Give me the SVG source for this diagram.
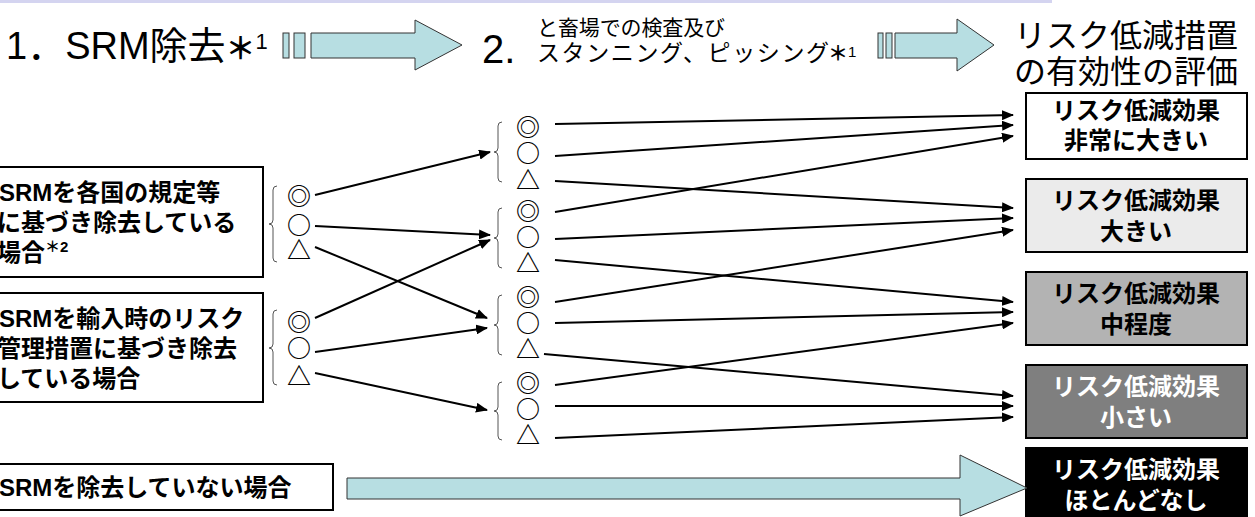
<svg xmlns="http://www.w3.org/2000/svg" width="1255" height="517" viewBox="0 0 1255 517">
<style>
.t{font-family:"Liberation Sans","Noto Sans CJK JP",sans-serif;fill:#000}
.b{font-weight:bold}
.box{stroke:#000;stroke-width:2}
.blk{fill:#b7dee2;stroke:#333;stroke-width:1}
.br{fill:none;stroke:#555;stroke-width:1}
.sym{font-family:"Noto Sans CJK JP",sans-serif;font-size:24px;font-weight:bold;text-anchor:middle}
.c line{stroke:#000;stroke-width:2;marker-end:url(#ah)}
.rt{font-size:24px;font-weight:bold;text-anchor:middle}
.lt{font-size:24px;font-weight:bold}
.ast{font-weight:bold}
</style>
<defs>
<marker id="ah" markerUnits="userSpaceOnUse" markerWidth="12" markerHeight="10" refX="11" refY="5" orient="auto">
<path d="M0,0 L12,5 L0,10 z" fill="#000"/>
</marker>
</defs>
<rect x="0" y="0" width="1052" height="3" fill="#d4d4f0"/>

<g id="header1">
<text class="t" x="6" y="59" font-size="38">1．SRM除去<tspan class="ast" font-size="30">＊</tspan><tspan font-size="22" dy="-10">1</tspan></text>
<rect class="blk" x="283" y="33" width="6" height="25"/>
<rect class="blk" x="294" y="33" width="11" height="25"/>
<polygon class="blk" points="311,33 415,33 415,20 462,45 415,70 415,58 311,58"/>
</g>
<g id="header2">
<text class="t" x="482" y="63" font-size="40">2.</text>
<text class="t" x="537" y="35" font-size="21" textLength="188" lengthAdjust="spacing">と畜場での検査及び</text>
<text class="t" x="537" y="61" font-size="23" textLength="292" lengthAdjust="spacing">スタンニング、ピッシング</text>
<text class="t" x="828" y="61" font-size="20"><tspan class="ast">＊</tspan><tspan font-size="15" dy="-4">1</tspan></text>
<rect class="blk" x="878" y="33" width="5" height="25"/>
<rect class="blk" x="886" y="33" width="6" height="25"/>
<polygon class="blk" points="895,33 957,33 957,19 994,45 957,71 957,58 895,58"/>
</g>
<g id="header3">
<text class="t" x="1014" y="47" font-size="32">リスク低減措置</text>
<text class="t" x="1014" y="83" font-size="32">の有効性の評価</text>
</g>

<g id="boxA">
<rect class="box" x="-2" y="167" width="265" height="110" fill="#fff"/>
<text class="t lt" x="-1" y="201">SRMを各国の規定等</text>
<text class="t lt" x="-3" y="231">に基づき除去している</text>
<text class="t lt" x="-3" y="261">場合<tspan font-size="15" dy="-9">＊2</tspan></text>
</g>
<g id="boxB">
<rect class="box" x="-2" y="293" width="265" height="109" fill="#fff"/>
<text class="t lt" x="-1" y="327">SRMを輸入時のリスク</text>
<text class="t lt" x="-3" y="357">管理措置に基づき除去</text>
<text class="t lt" x="-3" y="387">している場合</text>
</g>
<g id="boxC">
<rect class="box" x="-2" y="464" width="335" height="46" fill="#fff"/>
<text class="t lt" x="-1" y="496">SRMを除去していない場合</text>
</g>

<g id="leftGroup1">
<path class="br" d="M277,186 q-4,0 -4,4 L273,220 q0,4 -4,4 q4,0 4,4 L273,258 q0,4 4,4"/>
<text class="sym" x="299" y="205">◎</text>
<text class="sym" x="299" y="234">○</text>
<text class="sym" x="299" y="259">△</text>
</g>
<g id="leftGroup2">
<path class="br" d="M277,310 q-4,0 -4,4 L273,344 q0,4 -4,4 q4,0 4,4 L273,381 q0,4 4,4"/>
<text class="sym" x="299" y="331">◎</text>
<text class="sym" x="299" y="357">○</text>
<text class="sym" x="299" y="385">△</text>
</g>

<g id="midGroup1">
<path class="br" d="M502,122 q-4,0 -4,4 L498,148 q0,4 -4,4 q4,0 4,4 L498,178 q0,4 4,4"/>
<text class="sym" x="528" y="136">◎</text>
<text class="sym" x="528" y="162">○</text>
<text class="sym" x="528" y="189">△</text>
</g>
<g id="midGroup2">
<path class="br" d="M502,208 q-4,0 -4,4 L498,234 q0,4 -4,4 q4,0 4,4 L498,264 q0,4 4,4"/>
<text class="sym" x="528" y="220">◎</text>
<text class="sym" x="528" y="246">○</text>
<text class="sym" x="528" y="272">△</text>
</g>
<g id="midGroup3">
<path class="br" d="M502,295 q-4,0 -4,4 L498,321 q0,4 -4,4 q4,0 4,4 L498,351 q0,4 4,4"/>
<text class="sym" x="528" y="306">◎</text>
<text class="sym" x="528" y="332">○</text>
<text class="sym" x="528" y="358">△</text>
</g>
<g id="midGroup4">
<path class="br" d="M502,382 q-4,0 -4,4 L498,407 q0,4 -4,4 q4,0 4,4 L498,436 q0,4 4,4"/>
<text class="sym" x="528" y="392">◎</text>
<text class="sym" x="528" y="418">○</text>
<text class="sym" x="528" y="444">△</text>
</g>

<g id="result1">
<rect class="box" x="1026" y="93" width="221" height="66" fill="#fff" stroke-width="1.5"/>
<text class="t rt" x="1136" y="119">リスク低減効果</text>
<text class="t rt" x="1136" y="149">非常に大きい</text>
</g>
<g id="result2">
<rect class="box" x="1026" y="179" width="221" height="73" fill="#ebebeb" stroke-width="1.5"/>
<text class="t rt" x="1136" y="209">リスク低減効果</text>
<text class="t rt" x="1136" y="240">大きい</text>
</g>
<g id="result3">
<rect class="box" x="1026" y="272" width="221" height="73" fill="#b3b3b3" stroke-width="1.5"/>
<text class="t rt" x="1136" y="302">リスク低減効果</text>
<text class="t rt" x="1136" y="333">中程度</text>
</g>
<g id="result4">
<rect class="box" x="1026" y="365" width="221" height="73" fill="#7f7f7f" stroke-width="1.5"/>
<text class="t rt" x="1136" y="395" style="fill:#fff">リスク低減効果</text>
<text class="t rt" x="1136" y="426" style="fill:#fff">小さい</text>
</g>
<g id="result5">
<rect class="box" x="1026" y="448" width="221" height="72" fill="#000" stroke-width="1.5"/>
<text class="t rt" x="1136" y="478" style="fill:#fff">リスク低減効果</text>
<text class="t rt" x="1136" y="509" style="fill:#fff">ほとんどなし</text>
</g>

<g id="connectors" class="c">
<line x1="315" y1="195" x2="490" y2="152"/>
<line x1="315" y1="226" x2="490" y2="235"/>
<line x1="315" y1="247" x2="487" y2="318"/>
<line x1="315" y1="318" x2="490" y2="240"/>
<line x1="315" y1="352" x2="487" y2="328"/>
<line x1="315" y1="373" x2="487" y2="410"/>

<line x1="555" y1="124" x2="1013" y2="115"/>
<line x1="555" y1="156" x2="1013" y2="125"/>
<line x1="555" y1="181" x2="1013" y2="208"/>
<line x1="555" y1="212" x2="1013" y2="136"/>
<line x1="555" y1="239" x2="1013" y2="218"/>
<line x1="555" y1="260" x2="1013" y2="302"/>
<line x1="555" y1="302" x2="1013" y2="230"/>
<line x1="555" y1="323" x2="1013" y2="312"/>
<line x1="544" y1="354" x2="1013" y2="396"/>
<line x1="555" y1="385" x2="1013" y2="323"/>
<line x1="555" y1="406" x2="1013" y2="406"/>
<line x1="555" y1="438" x2="1013" y2="417"/>
<polygon class="blk" points="347,478 960,478 960,455 1027,488 960,516 960,499 347,499"/>
</g>
</svg>
